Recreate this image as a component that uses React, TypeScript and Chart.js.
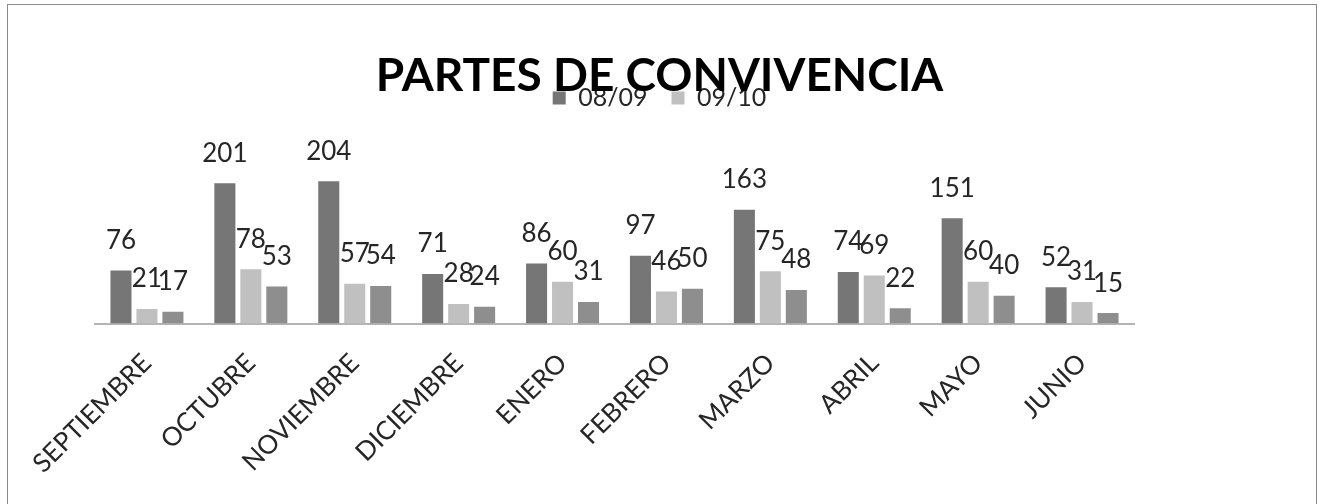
import React, { useEffect, useRef } from "react";
import { Chart, registerables } from "chart.js";

Chart.register(...registerables);

const categories = [
  "SEPTIEMBRE",
  "OCTUBRE",
  "NOVIEMBRE",
  "DICIEMBRE",
  "ENERO",
  "FEBRERO",
  "MARZO",
  "ABRIL",
  "MAYO",
  "JUNIO",
];
const series0809 = [76, 201, 204, 71, 86, 97, 163, 74, 151, 52];
const series0910 = [21, 78, 57, 28, 60, 46, 75, 69, 60, 31];
const series1011 = [17, 53, 54, 24, 31, 50, 48, 22, 40, 15];
const seriesNames = ["08/09", "09/10", "10/11"];
const seriesColors = ["#767676", "#c0c0c0", "#8e8e8e"];

const valueLabels = {
  id: "valueLabels",
  afterDatasetsDraw(chart: any) {
    const ctx = chart.ctx;
    ctx.save();
    ctx.font = "26px Lato, 'Open Sans', sans-serif";
    ctx.fillStyle = "#262626";
    ctx.textAlign = "center";
    ctx.textBaseline = "middle";
    chart.data.datasets.forEach((ds: any, i: number) => {
      const meta = chart.getDatasetMeta(i);
      meta.data.forEach((bar: any, j: number) => {
        ctx.fillText(String(ds.data[j]), bar.x, bar.y - 30);
      });
    });
    ctx.restore();
  },
};

export default function App() {
  const ref = useRef<HTMLCanvasElement | null>(null);
  useEffect(() => {
    if (!ref.current) return;
    const chart = new Chart(ref.current, {
      type: "bar",
      data: {
        labels: categories,
        datasets: [series0809, series0910, series1011].map((d, i) => ({
          label: seriesNames[i],
          data: d,
          backgroundColor: seriesColors[i],
          borderWidth: 0,
          categoryPercentage: 0.75,
          barPercentage: 0.81,
        })),
      },
      options: {
        responsive: false,
        animation: false,
        layout: { padding: { left: 95, right: 95, top: 0, bottom: 9 } },
        plugins: {
          tooltip: { enabled: false },
          title: {
            display: true,
            text: "PARTES DE CONVIVENCIA",
            color: "#000000",
            font: { family: "Lato, 'Open Sans', sans-serif", size: 46, weight: "bold", lineHeight: 1.2 },
            padding: { top: 48.5, bottom: -42.3 },
          },
          legend: {
            display: true,
            position: "top",
            labels: {
              filter: (item: any) => item.datasetIndex < 2,
              boxWidth: 13,
              boxHeight: 13,
              padding: 24,
              color: "#262626",
              font: { family: "Lato, 'Open Sans', sans-serif", size: 25 },
            },
          },
        },
        scales: {
          x: {
            grid: { display: false },
            border: { display: true, color: "#b4b4b4", width: 2 },
            ticks: {
              maxRotation: 45,
              minRotation: 45,
              padding: 16,
              color: "#262626",
              font: { family: "Lato, 'Open Sans', sans-serif", size: 26 },
            },
          },
          y: {
            display: true,
            position: "right",
            min: 0,
            max: 291,
            grid: { display: false },
            border: { display: false },
            ticks: { display: false },
            afterFit: (s: any) => {
              s.width = 90;
            },
          },
        },
      },
      plugins: [valueLabels],
    });
    return () => chart.destroy();
  }, []);
  return (
    <div style={{ position: "fixed", left: 0, top: 0, width: 1319, height: 504, overflow: "hidden", background: "#ffffff" }}>
      <div style={{ position: "absolute", left: 7, top: 4, width: 1308, height: 600, border: "1px solid #8a8a8a" }} />
      <canvas ref={ref} width={1319} height={504} style={{ position: "absolute", left: 0, top: 0, width: 1319, height: 504 }} />
    </div>
  );
}
